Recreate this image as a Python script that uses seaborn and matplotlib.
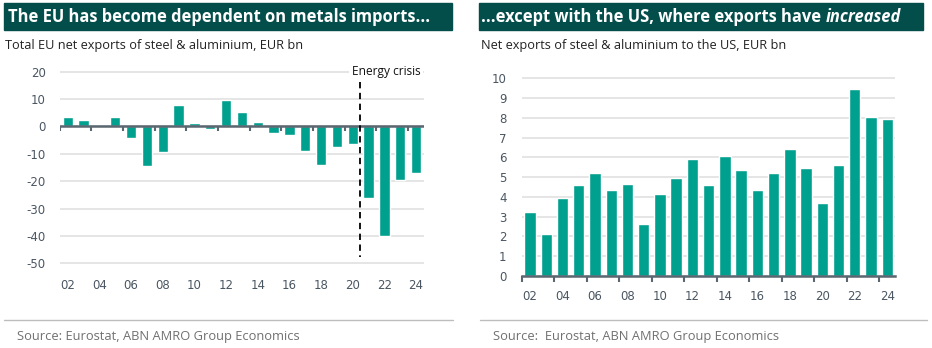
import matplotlib
matplotlib.use("Agg")
import matplotlib.pyplot as plt
import seaborn as sns
import pandas as pd
from matplotlib.patches import Rectangle
from matplotlib.lines import Line2D

# ---------------- data ----------------
years = ["02", "03", "04", "05", "06", "07", "08", "09", "10", "11", "12", "13",
         "14", "15", "16", "17", "18", "19", "20", "21", "22", "23", "24"]
eu_net_exports = [3.6, 2.2, 0.1, 3.3, -4.2, -14.5, -9.4, 7.8, 1.3, -1.0, 9.8, 5.2,
                  1.8, -2.3, -3.0, -8.8, -14.0, -7.6, -6.3, -26.0, -39.8, -19.4, -17.0]
us_net_exports = [3.22, 2.14, 3.93, 4.59, 5.19, 4.37, 4.65, 2.63, 4.13, 4.97, 5.92, 4.59,
                  6.09, 5.38, 4.35, 5.21, 6.41, 5.46, 3.69, 5.63, 9.46, 8.03, 7.96]
left_yticks = [20, 10, 0, -10, -20, -30, -40, -50]
right_yticks = list(range(0, 11))
crisis_label = "Energy crisis"
crisis_after = "20"

title_left = "The EU has become dependent on metals imports..."
title_right_a = "...except with the US, where exports have "
title_right_b = "increased"
sub_left = "Total EU net exports of steel & aluminium, EUR bn"
sub_right = "Net exports of steel & aluminium to the US, EUR bn"
source_left = "Source: Eurostat, ABN AMRO Group Economics"
source_right = "Source:  Eurostat, ABN AMRO Group Economics"

# ---------------- style ----------------
sns.set_theme(style="white")
plt.rcParams["font.family"] = ["Open Sans", "DejaVu Sans"]

TEAL = "#00a08e"
HEAD = "#034e4b"
AXC = "#5a6670"
TICKC = "#4a5662"
GRID = "#dedede"
TICKFONT = "DejaVu Sans"

W, H = 932, 348
fig = plt.figure(figsize=(W / 100, H / 100), dpi=100)
fig.patch.set_facecolor("white")


def rect(l, t, r, b):
    return [l / W, 1 - b / H, (r - l) / W, (b - t) / H]


def fx(x):
    return x / W


def fy(y):
    return 1 - y / H


df_left = pd.DataFrame({"year": years, "value": eu_net_exports})
df_right = pd.DataFrame({"year": years, "value": us_net_exports})
boundaries = [i - 0.5 for i in range(0, len(years), 2)]
label_pos = list(range(0, len(years), 2))

# ---------------- left chart ----------------
ax1 = fig.add_axes(rect(59.8, 66.2, 424.0, 271.7))
sns.barplot(data=df_left, x="year", y="value", color=TEAL, saturation=1,
            width=0.65, ax=ax1, zorder=2)
ax1.set_xlim(-0.5, len(years) - 0.5)
ax1.set_ylim(-53, 22)
ax1.set_yticks(left_yticks)
ax1.set_yticklabels([f"{v}" for v in left_yticks])
ax1.yaxis.grid(True, color=GRID, lw=1.1, zorder=0)
ax1.set_axisbelow(True)
for s in ax1.spines.values():
    s.set_visible(False)
ax1.set_xticks(label_pos)
ax1.set_xticklabels([years[i] for i in label_pos])
ax1.tick_params(axis="y", length=0, pad=10, labelsize=8.5, labelcolor=TICKC,
                labelfontfamily=TICKFONT)
ax1.tick_params(axis="x", length=0, pad=5, labelsize=8.5, labelcolor=TICKC,
                labelfontfamily=TICKFONT)
ax1.set_xlabel("")
ax1.set_ylabel("")
ax1.axhline(0, color=AXC, lw=1.8, zorder=3)
ax1.vlines(boundaries, -1.6, 0, color=AXC, lw=1.5, zorder=3)

xc = years.index(crisis_after) + 0.45
ax1.plot([xc, xc], [16.3, -47.5], color="black", lw=1.3, ls=(0, (3.5, 2.5)), zorder=4)
ax1.text(xc + 1.65, 20, crisis_label, ha="center", va="center", fontsize=8.6,
         color="#111111",
         bbox=dict(facecolor="white", edgecolor="none", pad=2), zorder=5)

# ---------------- right chart ----------------
ax2 = fig.add_axes(rect(521.9, 74.3, 895.4, 276.0))
sns.barplot(data=df_right, x="year", y="value", color=TEAL, saturation=1,
            width=0.7, ax=ax2, zorder=2)
ax2.set_xlim(-0.5, len(years) - 0.5)
ax2.set_ylim(0, 10.2)
ax2.set_yticks(right_yticks)
ax2.yaxis.grid(True, color=GRID, lw=1.1, zorder=0)
ax2.set_axisbelow(True)
for k, s in ax2.spines.items():
    s.set_visible(k == "bottom")
ax2.spines["bottom"].set_color(AXC)
ax2.spines["bottom"].set_linewidth(1.8)
ax2.set_xticks(label_pos)
ax2.set_xticklabels([years[i] for i in label_pos])
ax2.set_xticks(boundaries, minor=True)
ax2.tick_params(axis="x", which="major", length=0, pad=10, labelsize=8.5,
                labelcolor=TICKC, labelfontfamily=TICKFONT)
ax2.tick_params(axis="x", which="minor", length=4, width=1.5, color=AXC, bottom=True)
ax2.tick_params(axis="y", length=0, pad=11, labelsize=8.5, labelcolor=TICKC,
                labelfontfamily=TICKFONT)
ax2.set_xlabel("")
ax2.set_ylabel("")

# ---------------- headers ----------------
fig.patches.append(Rectangle((fx(4), fy(29.5)), fx(452) - fx(4), fy(3) - fy(29.5),
                             transform=fig.transFigure, color=HEAD, zorder=0))
fig.patches.append(Rectangle((fx(479), fy(29.5)), fx(923) - fx(479), fy(3) - fy(29.5),
                             transform=fig.transFigure, color=HEAD, zorder=0))
TS = 11.9
fig.text(fx(8), fy(16.5), title_left, color="white", fontsize=TS, fontweight="bold",
         ha="left", va="center")
t_a = fig.text(fx(481), fy(16.5), title_right_a, color="white", fontsize=TS,
               fontweight="bold", ha="left", va="center")
fig.canvas.draw()
bb = t_a.get_window_extent(renderer=fig.canvas.get_renderer())
fig.text(bb.x1 / W, fy(16.5), title_right_b, color="white", fontsize=TS,
         fontweight="bold", style="italic", ha="left", va="center")

fig.text(fx(5), fy(45), sub_left, color="#222222", fontsize=9.2, ha="left", va="center")
fig.text(fx(481), fy(45), sub_right, color="#222222", fontsize=9.2, ha="left", va="center")

# ---------------- footers ----------------
fig.lines.append(Line2D([fx(4), fx(453)], [fy(320), fy(320)], transform=fig.transFigure,
                        color="#bdbdbd", lw=1))
fig.lines.append(Line2D([fx(480), fx(927)], [fy(320), fy(320)], transform=fig.transFigure,
                        color="#bdbdbd", lw=1))
fig.text(fx(17), fy(336.5), source_left, color="#707070", fontsize=9.3, ha="left", va="center")
fig.text(fx(493), fy(336.5), source_right, color="#707070", fontsize=9.3, ha="left", va="center")

fig.savefig("out.png", dpi=100)
